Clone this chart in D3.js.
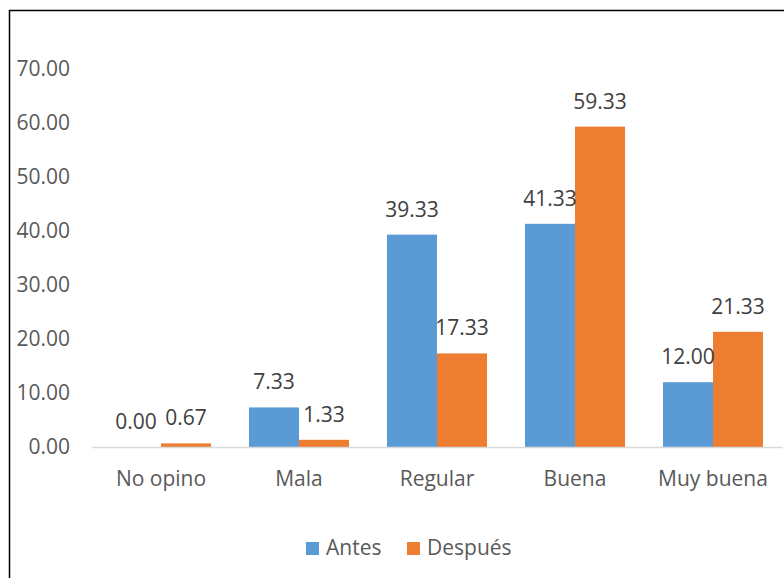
<!DOCTYPE html>
<html>
<head>
<meta charset="utf-8">
<script src="https://cdn.jsdelivr.net/npm/d3@7"></script>
<style>
  body { margin: 0; background: #fff; }
  text { font-family: "Open Sans", sans-serif; }
</style>
</head>
<body>
<div id="wrapper"></div>
<script>
const categories = ["No opino", "Mala", "Regular", "Buena", "Muy buena"]
const seriesNames = ["Antes", "Después"]
const antes = [0.00, 7.33, 39.33, 41.33, 12.00]
const despues = [0.67, 1.33, 17.33, 59.33, 21.33]
const yTicks = [0, 10, 20, 30, 40, 50, 60, 70]
const colors = ["#5B9BD5", "#ED7D31"]

function drawBars() {
  const width = 784
  const height = 578
  const margin = { top: 69, right: 2, bottom: 131, left: 92 }
  const boundedWidth = width - margin.left - margin.right
  const boundedHeight = height - margin.top - margin.bottom

  const svg = d3.select("#wrapper")
    .append("svg")
      .attr("width", width)
      .attr("height", height)

  // outer frame (only top and left edges fall inside the picture)
  svg.append("rect")
    .attr("x", 9.5)
    .attr("y", 10.5)
    .attr("width", width)
    .attr("height", height)
    .attr("fill", "none")
    .attr("stroke", "#000")
    .attr("stroke-width", 1.5)

  const bounds = svg.append("g")
    .attr("transform", `translate(${margin.left}, ${margin.top})`)

  const xScale = d3.scaleBand()
    .domain(categories)
    .range([0, boundedWidth])
    .paddingInner(0.275)
    .paddingOuter(0.1375)

  const xSub = d3.scaleBand()
    .domain(seriesNames)
    .range([0, xScale.bandwidth()])

  const yScale = d3.scaleLinear()
    .domain([0, 70])
    .range([boundedHeight, 0])

  const rows = categories.map((c, i) => ({
    category: c,
    values: [
      { series: seriesNames[0], value: antes[i] },
      { series: seriesNames[1], value: despues[i] },
    ],
  }))

  // y axis labels only
  const yAxis = bounds.append("g")
    .call(d3.axisLeft(yScale).tickValues(yTicks).tickFormat(d3.format(".2f")).tickSize(0).tickPadding(22))
  yAxis.select(".domain").remove()
  yAxis.selectAll("text")
    .attr("fill", "#595959")
    .style("font-size", "21px")

  // bars
  const groups = bounds.selectAll(".group")
    .data(rows)
    .join("g")
      .attr("class", "group")
      .attr("transform", d => `translate(${xScale(d.category)}, 0)`)

  groups.selectAll("rect")
    .data(d => d.values)
    .join("rect")
      .attr("x", d => xSub(d.series))
      .attr("width", xSub.bandwidth())
      .attr("y", d => yScale(d.value))
      .attr("height", d => boundedHeight - yScale(d.value))
      .attr("fill", (d, i) => colors[i])

  groups.selectAll(".value")
    .data(d => d.values)
    .join("text")
      .attr("class", "value")
      .attr("x", d => xSub(d.series) + xSub.bandwidth() / 2)
      .attr("y", d => yScale(d.value) - 18)
      .attr("text-anchor", "middle")
      .attr("fill", "#404040")
      .style("font-size", "21px")
      .text(d => d3.format(".2f")(d.value))

  // x axis
  const xAxis = bounds.append("g")
    .attr("transform", `translate(0, ${boundedHeight})`)
    .call(d3.axisBottom(xScale).tickSize(0).tickPadding(0))
  xAxis.select(".domain")
    .attr("stroke", "#D9D9D9")
    .attr("stroke-width", 1.5)
  xAxis.selectAll("text")
    .attr("dy", 0)
    .attr("y", 39)
    .attr("fill", "#595959")
    .style("font-size", "21px")

  // legend
  const legend = svg.append("g")
    .attr("transform", "translate(306, 542)")
  const legendOffsets = [0, 101]
  seriesNames.forEach((name, i) => {
    const item = legend.append("g")
      .attr("transform", `translate(${legendOffsets[i]}, 0)`)
    item.append("rect")
      .attr("width", 13)
      .attr("height", 13)
      .attr("fill", colors[i])
    item.append("text")
      .attr("x", 20)
      .attr("y", 13)
      .attr("fill", "#595959")
      .style("font-size", "21px")
      .text(name)
  })
}
drawBars()
</script>
</body>
</html>
